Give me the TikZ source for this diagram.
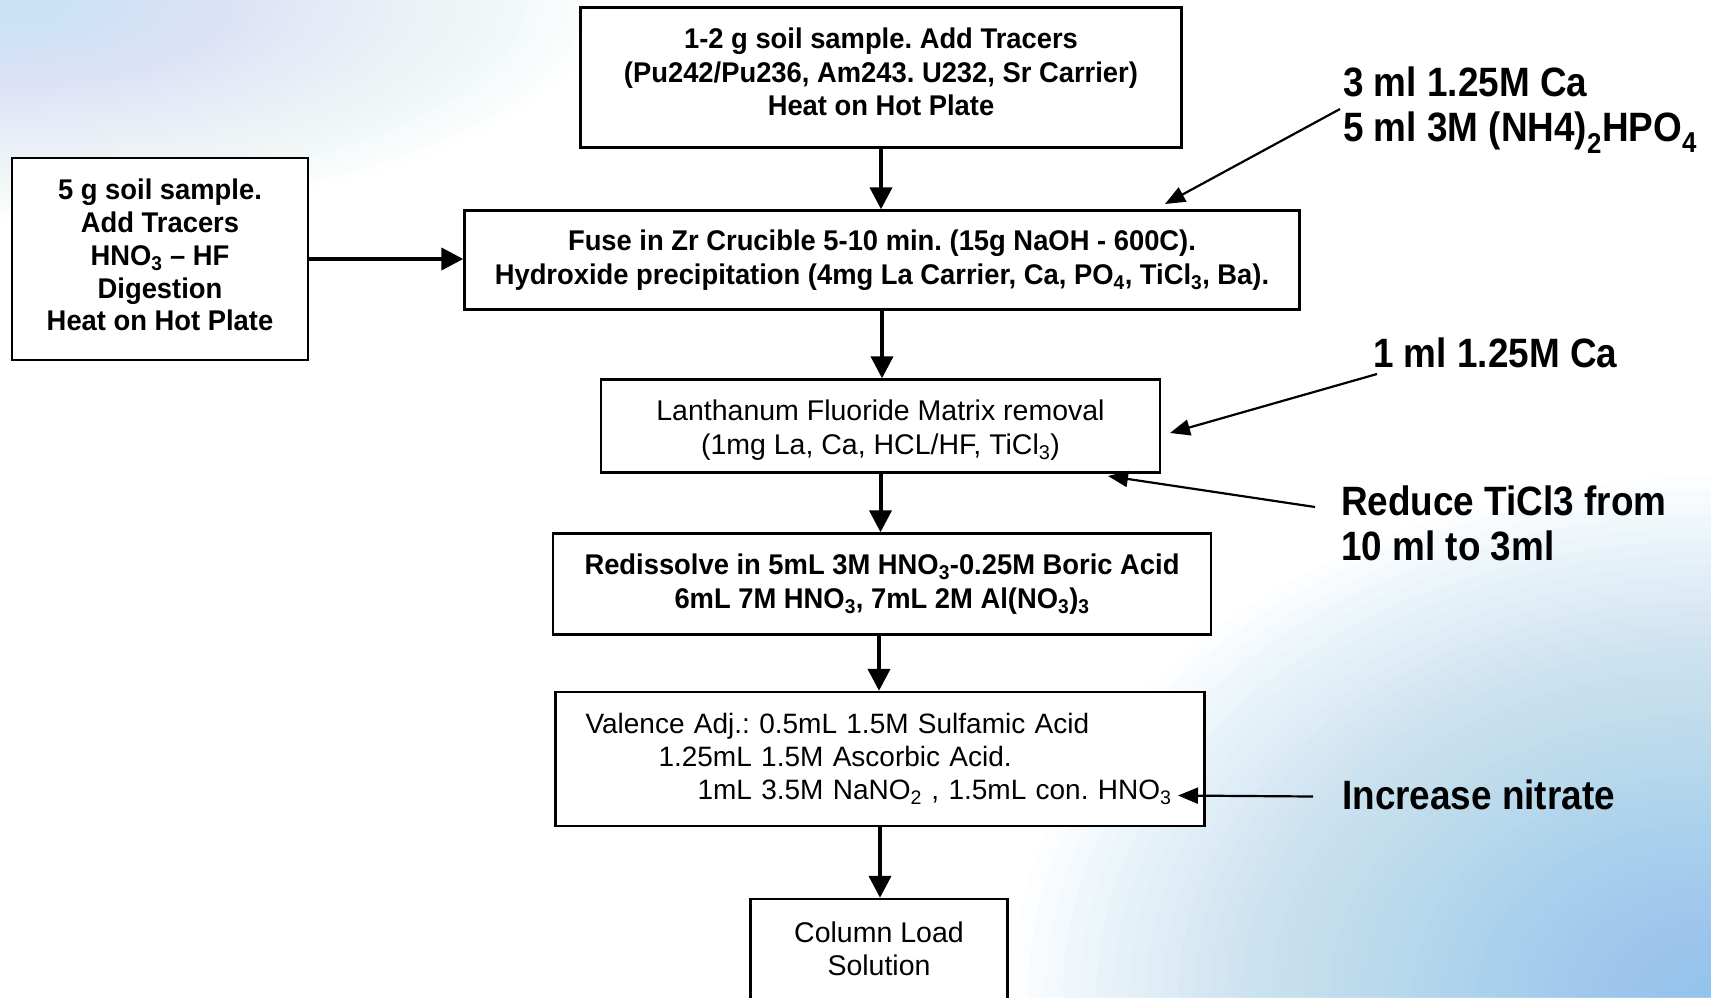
\documentclass[tikz,border=0pt]{standalone}
\usepackage{fontspec}
\setmainfont{Liberation Sans}
\newfontfamily\boxbold[FakeStretch=0.96]{Liberation Sans Bold}
\newfontfamily\annfont[FakeStretch=0.9]{Liberation Sans}
\usetikzlibrary{arrows.meta}

\definecolor{skyA}{HTML}{C9E2F6}
\definecolor{skyB}{HTML}{8CC4EC}

% invisible struts that nudge a text block up (depth) or down (height)
\newcommand{\liftby}[1]{\rule[-#1]{0pt}{0pt}}
\newcommand{\dropby}[1]{\rule{0pt}{#1}}

\begin{document}
\frenchspacing
\begin{tikzpicture}[x=1pt,y=-1pt,
  box/.style={draw=black, line width=2.4pt, fill=white, inner sep=0pt, align=center,
              font=\fontsize{28.5}{33.5}\selectfont},
  bbox/.style={box, font=\boxbold\fontsize{28.5}{33.5}\selectfont},
  flow/.style={line width=4pt, -{Triangle[length=22pt,width=22pt]}},
  note/.style={anchor=west, inner sep=0pt, align=left,
               font=\annfont\fontsize{41}{45}\selectfont\bfseries},
  pointer/.style={line width=2.2pt, -{Triangle[length=20pt,width=16pt]}},
]
% page area and soft corner glows
\clip (0,0) rectangle (1711,997);
\fill[white] (0,0) rectangle (1711,997);
\foreach \k in {0,...,59}{
  \pgfmathsetmacro{\f}{(1-\k/60)^1.5}
  \fill[skyB, opacity=0.032] (1711,997) ellipse [x radius={700*\f}, y radius={520*\f}];
  \fill[skyA, opacity=0.022] (0,0) ellipse [x radius={600*\f}, y radius={220*\f}];
}

% process steps
\node[bbox, minimum width=601pt, minimum height=140pt] (top) at (881,77.5)
  {1-2 g soil sample. Add Tracers\\(Pu242/Pu236, Am243. U232, Sr Carrier)\\Heat on Hot Plate\liftby{11pt}};
\node[bbox, minimum width=296pt, minimum height=202pt, font=\boxbold\fontsize{28.5}{32.7}\selectfont] (left) at (160,259)
  {5 g soil sample.\\Add Tracers\\HNO\textsubscript{3} \textendash{} HF\\Digestion\\Heat on Hot Plate\liftby{8pt}};
\node[bbox, minimum width=835pt, minimum height=99pt] (fuse) at (882,260)
  {Fuse in Zr Crucible 5-10 min. (15g NaOH - 600C).\\Hydroxide precipitation (4mg La Carrier, Ca, PO\textsubscript{4}, TiCl\textsubscript{3}, Ba).};
\node[box, minimum width=559pt, minimum height=93pt] (laf) at (880.5,426)
  {\dropby{29pt}Lanthanum Fluoride Matrix removal\\(1mg La, Ca, HCL/HF, TiCl\textsubscript{3})};
\node[bbox, minimum width=658pt, minimum height=101pt] (redis) at (882,584)
  {Redissolve in 5mL 3M HNO\textsubscript{3}-0.25M Boric Acid\\6mL 7M HNO\textsubscript{3}, 7mL 2M Al(NO\textsubscript{3})\textsubscript{3}};
\node[box, text width=589pt, inner xsep=30pt, align=left, minimum height=134pt,
      font=\fontsize{28}{33}\selectfont] (val) at (880,759)
  {\mbox{Valence Adj.: 0.5mL 1.5M Sulfamic Acid}\\
   \mbox{\hspace*{73pt}1.25mL 1.5M Ascorbic Acid.}\\
   \mbox{\hspace*{112pt}1mL 3.5M NaNO\textsubscript{2} , 1.5mL con. HNO\textsubscript{3}}\liftby{4pt}};
\node[box, minimum width=257pt, minimum height=106pt] (col) at (879,952)
  {Column Load\\Solution\liftby{7pt}};

% main flow
\draw[flow] (top.south) -- (top.south |- fuse.north);
\draw[flow] (left.east) -- (left.east -| fuse.west);
\draw[flow] (fuse.south) -- (fuse.south |- laf.north);
\draw[flow] (laf.south) -- (laf.south |- redis.north);
\draw[flow] ([xshift=-3pt]redis.south) -- ([xshift=-3pt]redis.south |- val.north);
\draw[flow] (val.south) -- (val.south |- col.north);

% side notes
\node[note] (n1) at (1343,110) {3 ml 1.25M Ca\\5 ml 3M (NH4)\textsubscript{2}HPO\textsubscript{4}};
\node[note] (n2) at (1373,352.5) {1 ml 1.25M Ca};
\node[note] (n3) at (1341,523) {Reduce TiCl3 from\\10 ml to 3ml};
\node[note] (n4) at (1342,794.5) {Increase nitrate};

\coordinate (n1tail) at (1340,109);
\coordinate (n1tip) at (1165,204);
\coordinate (n2tail) at (1377,374);
\coordinate (n2tip) at (1170,433);
\coordinate (n3tail) at (1315,507);
\coordinate (n3tip) at (1108,476);
\coordinate (n4tail) at (1313,796.5);
\coordinate (n4tip) at (1178,795.5);

\draw[pointer] (n1tail) -- (n1tip);
\draw[pointer] (n2tail) -- (n2tip);
\draw[pointer] (n3tail) -- (n3tip);
\draw[pointer] (n4tail) -- (n4tip);
\end{tikzpicture}
\end{document}
